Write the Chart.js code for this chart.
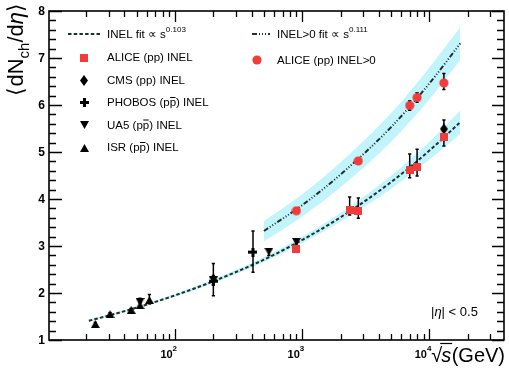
<!DOCTYPE html>
<html>
<head>
<meta charset="utf-8">
<script src="https://cdn.jsdelivr.net/npm/chart.js@4.4.0/dist/chart.umd.min.js"></script>
<style>
  html, body { margin: 0; padding: 0; background: #fff; }
  canvas { display: block; }
</style>
</head>
<body>
<canvas id="c" width="509" height="371"></canvas>
<script>
// Charged-particle pseudorapidity density at |eta| < 0.5 versus collision energy (GeV)

// ALICE pp, INEL
const aliceInelS  = [900, 2360, 2760, 7000, 8000, 13000];
const aliceInelY  = [2.94, 3.77, 3.75, 4.62, 4.69, 5.31];
const aliceInelUp = [0.05, 0.27, 0.27, 0.34, 0.37, 0.20];
const aliceInelDn = [0.05, 0.11, 0.16, 0.17, 0.20, 0.18];

// ALICE pp, INEL>0
const aliceGt0S  = [900, 2760, 7000, 8000, 13000];
const aliceGt0Y  = [3.75, 4.81, 5.99, 6.16, 6.47];
const aliceGt0Up = [0.04, 0.06, 0.10, 0.10, 0.20];
const aliceGt0Dn = [0.04, 0.06, 0.10, 0.10, 0.14];

// CMS pp, INEL
const cmsS  = [13000];
const cmsY  = [5.49];
const cmsUp = [0.19];
const cmsDn = [0.14];

// PHOBOS, INEL
const phobosS  = [200, 410];
const phobosY  = [2.25, 2.87];
const phobosUp = [0.38, 0.45];
const phobosDn = [0.31, 0.43];

// UA5, INEL
const ua5S  = [53, 200, 546, 900];
const ua5Y  = [1.81, 2.27, 2.88, 3.09];
const ua5Up = [0.08, 0.10, 0.06, 0.05];
const ua5Dn = [0.10, 0.10, 0.08, 0.05];

// ISR, INEL
const isrS  = [23.6, 30.8, 45.2, 53, 62.8];
const isrY  = [1.34, 1.55, 1.64, 1.74, 1.85];
const isrUp = [0.03, 0.03, 0.03, 0.05, 0.12];
const isrDn = [0.03, 0.03, 0.03, 0.05, 0.08];

// INEL power-law fit and its uncertainty band
const inelFitS    = [21, 30, 50, 100, 200, 500, 1000, 2000, 5000, 10000, 17400];
const inelFitY    = [1.41, 1.52, 1.69, 1.95, 2.25, 2.71, 3.13, 3.61, 4.36, 5.03, 5.63];
const inelBandLo  = [1.39, 1.50, 1.67, 1.92, 2.21, 2.66, 3.06, 3.52, 4.22, 4.84, 5.38];
const inelBandHi  = [1.43, 1.54, 1.71, 1.98, 2.29, 2.76, 3.20, 3.70, 4.50, 5.22, 5.88];

// INEL>0 power-law fit and its uncertainty band
const gt0FitS   = [500, 1000, 2000, 5000, 10000, 17500];
const gt0FitY   = [3.32, 3.87, 4.52, 5.53, 6.46, 7.31];
const gt0BandLo = [3.10, 3.63, 4.25, 5.22, 6.12, 6.96];
const gt0BandHi = [3.53, 4.10, 4.78, 5.83, 6.80, 7.66];

// axis tick values
const yTickValues = [1, 2, 3, 4, 5, 6, 7, 8];
const xDecades    = [1, 2, 3, 4];
const xLabelExps  = [2, 3, 4];

const FAM = '"Liberation Sans", Arial, Helvetica, sans-serif';
const RED = '#f23b3b';
const CYAN = '#c2f5fb';
const FIT = '#1f3030';

const pts = (xs, ys) => xs.map((x, i) => ({ x: x, y: ys[i] }));

// marker glyphs
function glyph(w, h, draw) {
  const c = document.createElement('canvas');
  c.width = w; c.height = h;
  const g = c.getContext('2d');
  draw(g);
  return c;
}
const mSquare = glyph(8, 8, g => { g.fillStyle = RED; g.fillRect(0, 0, 8, 8); });
const mCircle = glyph(10, 10, g => { g.fillStyle = RED; g.beginPath(); g.arc(5, 5, 4.6, 0, Math.PI * 2); g.fill(); });
const mDiamond = glyph(8, 11, g => { g.fillStyle = '#000'; g.beginPath(); g.moveTo(4, 0); g.lineTo(8, 5.5); g.lineTo(4, 11); g.lineTo(0, 5.5); g.closePath(); g.fill(); });
const mCross = glyph(9, 9, g => { g.fillStyle = '#000'; g.fillRect(3, 0, 3, 9); g.fillRect(0, 3, 9, 3); });
const mTriUp = glyph(9, 8, g => { g.fillStyle = '#000'; g.beginPath(); g.moveTo(4.5, 0); g.lineTo(9, 8); g.lineTo(0, 8); g.closePath(); g.fill(); });
const mTriDn = glyph(9, 8, g => { g.fillStyle = '#000'; g.beginPath(); g.moveTo(0, 0); g.lineTo(9, 0); g.lineTo(4.5, 8); g.closePath(); g.fill(); });

function markers(label, xs, ys, up, dn, style, order) {
  return {
    label: label, data: pts(xs, ys), errUp: up, errDn: dn,
    pointStyle: style, pointRadius: 4, showLine: false, order: order
  };
}
function curve(label, xs, ys, opts) {
  return Object.assign({
    label: label, data: pts(xs, ys), showLine: true, pointRadius: 0,
    tension: 0.4, cubicInterpolationMode: 'monotone', fill: false
  }, opts);
}

const datasets = [
  markers('ALICE (pp) INEL>0', aliceGt0S, aliceGt0Y, aliceGt0Up, aliceGt0Dn, mCircle, 1),
  markers('ALICE (pp) INEL', aliceInelS, aliceInelY, aliceInelUp, aliceInelDn, mSquare, 1),
  markers('CMS (pp) INEL', cmsS, cmsY, cmsUp, cmsDn, mDiamond, 2),
  markers('PHOBOS INEL', phobosS, phobosY, phobosUp, phobosDn, mCross, 2),
  markers('UA5 INEL', ua5S, ua5Y, ua5Up, ua5Dn, mTriDn, 3),
  markers('ISR INEL', isrS, isrY, isrUp, isrDn, mTriUp, 3),
  curve('INEL>0 fit', gt0FitS, gt0FitY, { borderColor: FIT, borderWidth: 2, borderDash: [5, 2, 1, 2, 1, 2, 1, 2], order: 5 }),
  curve('INEL fit', inelFitS, inelFitY, { borderColor: FIT, borderWidth: 2, borderDash: [3.5, 2.2], order: 5 }),
  curve('INEL>0 band hi', gt0FitS, gt0BandHi, { borderWidth: 0, borderColor: CYAN, backgroundColor: CYAN, fill: '+1', order: 10 }),
  curve('INEL>0 band lo', gt0FitS, gt0BandLo, { borderWidth: 0, borderColor: CYAN, order: 11 }),
  curve('INEL band hi', inelFitS, inelBandHi, { borderWidth: 0, borderColor: CYAN, backgroundColor: CYAN, fill: '+1', order: 10 }),
  curve('INEL band lo', inelFitS, inelBandLo, { borderWidth: 0, borderColor: CYAN, order: 11 })
];

// vertical error bars, drawn just before each marker set
const errorBars = {
  id: 'errorBars',
  beforeDatasetDraw(chart, args) {
    const ds = chart.data.datasets[args.index];
    if (!ds.errUp) return;
    const { ctx, scales: { x, y } } = chart;
    ctx.save();
    ctx.strokeStyle = '#000';
    ctx.lineWidth = 1.5;
    ds.data.forEach((p, i) => {
      const px = x.getPixelForValue(p.x);
      const yt = y.getPixelForValue(p.y + ds.errUp[i]);
      const yb = y.getPixelForValue(p.y - ds.errDn[i]);
      ctx.beginPath();
      ctx.moveTo(px, yt); ctx.lineTo(px, yb);
      ctx.moveTo(px - 1.6, yt); ctx.lineTo(px + 1.6, yt);
      ctx.moveTo(px - 1.6, yb); ctx.lineTo(px + 1.6, yb);
      ctx.stroke();
    });
    ctx.restore();
  }
};

function put(ctx, str, x, y, font, align) {
  ctx.font = font;
  ctx.textAlign = align || 'left';
  ctx.fillText(str, x, y);
  return ctx.measureText(str).width;
}
function width(ctx, str, font) {
  ctx.font = font;
  return ctx.measureText(str).width;
}

// frame, ticks, labels, legend and annotations
const decor = {
  id: 'decor',
  afterDraw(chart) {
    const { ctx, chartArea: a, scales: { x, y } } = chart;
    ctx.save();
    ctx.strokeStyle = '#000';
    ctx.fillStyle = '#000';

    // y ticks (left and right)
    ctx.lineWidth = 1.3;
    ctx.beginPath();
    for (let i = 0; i <= 35; i++) {
      const v = 1 + i * 0.2;
      const py = Math.round(y.getPixelForValue(v)) + 0.5;
      const major = i % 5 === 0;
      ctx.moveTo(a.left, py); ctx.lineTo(a.left + (major ? 13 : 7), py);
      ctx.moveTo(a.right, py); ctx.lineTo(a.right - (major ? 12 : 7), py);
    }
    // x ticks (bottom and top)
    xDecades.forEach(d => {
      for (let m = 1; m <= 9; m++) {
        const v = m * Math.pow(10, d);
        if (v < x.min || v > x.max) continue;
        const px = Math.round(x.getPixelForValue(v)) + 0.5;
        const len = m === 1 ? 11 : 6;
        ctx.moveTo(px, a.bottom); ctx.lineTo(px, a.bottom - len);
        ctx.moveTo(px, a.top); ctx.lineTo(px, a.top + len);
      }
    });
    ctx.stroke();

    // frame
    ctx.lineWidth = 1.6;
    ctx.strokeRect(a.left, a.top, a.right - a.left, a.bottom - a.top);

    // y tick labels
    ctx.textBaseline = 'middle';
    yTickValues.forEach(v => put(ctx, String(v), 45, y.getPixelForValue(v) + 0.5, 'bold 12px ' + FAM, 'right'));

    // x tick labels 10^n
    ctx.textBaseline = 'alphabetic';
    const TF = 'bold 11px ' + FAM, TS = 'bold 8px ' + FAM;
    xLabelExps.forEach(e => {
      const px = x.getPixelForValue(Math.pow(10, e));
      const w1 = width(ctx, '10', TF);
      const w2 = width(ctx, String(e), TS);
      const x0 = px - (w1 + w2) + 2;
      put(ctx, '10', x0, 358, TF);
      put(ctx, String(e), x0 + w1, 351, TS);
    });

    // x axis title: sqrt(s) (GeV), right-aligned to the frame edge
    {
      const base = 362;
      const F = '20px ' + FAM, FI = 'italic 20px ' + FAM;
      const wg = width(ctx, '(GeV)', F);
      const wsI = width(ctx, 's', FI);
      const wr = width(ctx, '\u221A', F);
      const gx = 505 - wg;
      const sx = gx - wsI - 0.5;
      const rx = sx - wr + 1;
      put(ctx, '\u221A', rx, base, F);
      put(ctx, 's', sx, base, FI);
      put(ctx, '(GeV)', gx, base, F);
      ctx.lineWidth = 1.2;
      ctx.beginPath();
      ctx.moveTo(sx - 1, 343.5); ctx.lineTo(sx + wsI + 1, 343.5);
      ctx.stroke();
    }

    // y axis title: <dN_ch/d eta>
    {
      ctx.save();
      ctx.translate(23, 0);
      ctx.rotate(-Math.PI / 2);
      const parts = [
        ['\u27E8', '22px ' + FAM, 0],
        ['dN', '22px ' + FAM, 0],
        ['ch', '15px ' + FAM, 6],
        ['/d', '22px ' + FAM, 0],
        ['\u03B7', 'italic 22px ' + FAM, 0],
        ['\u27E9', '22px ' + FAM, 0]
      ];
      let total = 0;
      parts.forEach(p => { total += width(ctx, p[0], p[1]); });
      let lx = -(3 + total);
      parts.forEach(p => { lx += put(ctx, p[0], lx, p[2], p[1]); });
      ctx.restore();
    }

    // |eta| < 0.5
    {
      let tx = 431;
      const b = 316;
      tx += put(ctx, '|', tx, b, '13px ' + FAM);
      tx += put(ctx, '\u03B7', tx, b, 'italic 13px ' + FAM);
      put(ctx, '| < 0.5', tx, b, '13px ' + FAM);
    }

    // legend
    const LF = '11.5px ' + FAM;
    const SF = '8px ' + FAM;
    ctx.lineWidth = 2;
    ctx.strokeStyle = FIT;
    ctx.setLineDash([3.5, 2.2]);
    ctx.beginPath(); ctx.moveTo(68, 34); ctx.lineTo(100, 34); ctx.stroke();
    ctx.setLineDash([5, 2, 1, 2, 1, 2, 1, 2]);
    ctx.beginPath(); ctx.moveTo(252, 34); ctx.lineTo(270, 34); ctx.stroke();
    ctx.setLineDash([]);

    ctx.textBaseline = 'middle';
    let w = put(ctx, 'INEL fit \u221D s', 107, 35, LF);
    put(ctx, '0.103', 107 + w, 30, SF);
    w = put(ctx, 'INEL>0 fit \u221D s', 277, 35, LF);
    put(ctx, '0.111', 277 + w, 30, SF);

    const rows = [
      [mSquare, 84, 57.5],
      [mDiamond, 84, 80],
      [mCross, 84, 102.5],
      [mTriDn, 84, 125],
      [mTriUp, 84, 147.5],
      [mCircle, 257, 60]
    ];
    rows.forEach(r => {
      ctx.drawImage(r[0], Math.round(r[1] - r[0].width / 2), Math.round(r[2] - r[0].height / 2));
    });
    put(ctx, 'ALICE (pp) INEL', 107, 58, LF);
    put(ctx, 'CMS (pp) INEL', 107, 80.5, LF);
    put(ctx, 'ALICE (pp) INEL>0', 277, 60.5, LF);

    // labels with a barred antiproton
    function barred(prefix, yy) {
      let tx = 107;
      tx += put(ctx, prefix + ' (p', tx, yy, LF);
      const wp = put(ctx, 'p', tx, yy, LF);
      ctx.lineWidth = 1;
      ctx.strokeStyle = '#000';
      ctx.beginPath(); ctx.moveTo(tx + 0.5, yy - 5.5); ctx.lineTo(tx + wp - 0.5, yy - 5.5); ctx.stroke();
      tx += wp;
      put(ctx, ') INEL', tx, yy, LF);
    }
    barred('PHOBOS', 103);
    barred('UA5', 125.5);
    barred('ISR', 148);

    ctx.restore();
  }
};

new Chart(document.getElementById('c'), {
  type: 'scatter',
  data: { datasets: datasets },
  options: {
    responsive: false,
    animation: false,
    events: [],
    layout: { padding: { left: 49, right: 5, top: 11, bottom: 31 } },
    scales: {
      x: { type: 'logarithmic', min: 10.2, max: 38600, display: false },
      y: { type: 'linear', min: 1, max: 8, display: false }
    },
    plugins: { legend: { display: false }, tooltip: { enabled: false } }
  },
  plugins: [errorBars, decor]
});
</script>
</body>
</html>
